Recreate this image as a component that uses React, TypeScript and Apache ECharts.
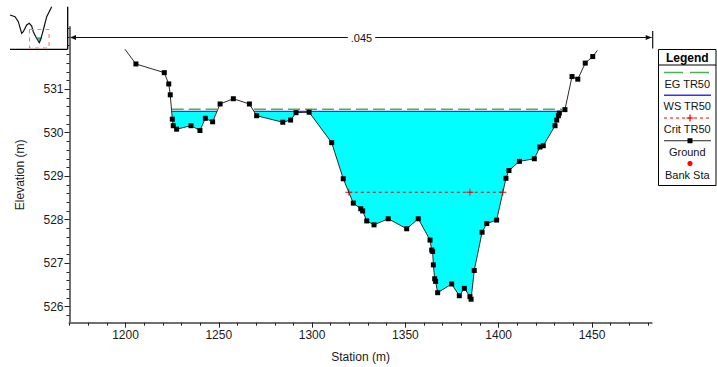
import React, { useEffect, useRef } from 'react';
import * as echarts from 'echarts';

// ---- data ----
const groundStation = [
  1199.7, 1205.6, 1220.8, 1223.2, 1224.0, 1225.1, 1225.6, 1227.4, 1235.1, 1239.9,
  1242.8, 1246.7, 1250.7, 1257.8, 1266.4, 1270.3, 1284.3, 1288.5, 1291.4, 1298.4,
  1310.5, 1316.7, 1322.1, 1326.1, 1327.1, 1329.3, 1333.2, 1340.8, 1350.7, 1356.9,
  1363.2, 1364.1, 1364.6, 1365.0, 1365.7, 1366.2, 1367.3, 1374.8, 1378.9, 1381.6,
  1384.6, 1385.2, 1386.9, 1391.1, 1393.6, 1398.9, 1403.9, 1405.5, 1411.1, 1419.1,
  1422.1, 1423.9, 1430.2, 1431.1, 1432.0, 1432.5, 1435.5, 1439.3, 1442.4, 1446.4,
  1450.4, 1452.9,
];
const groundElevation = [
  531.92, 531.58, 531.38, 531.12, 530.87, 530.31, 530.16, 530.08, 530.16, 530.05,
  530.33, 530.25, 530.66, 530.78, 530.66, 530.39, 530.24, 530.29, 530.46, 530.47,
  529.77, 528.94, 528.38, 528.25, 528.20, 527.97, 527.88, 528.02, 527.79, 528.02,
  527.53, 527.30, 527.27, 526.96, 526.64, 526.58, 526.32, 526.52, 526.25, 526.42,
  526.23, 526.17, 526.83, 527.71, 527.91, 527.99, 528.95, 529.13, 529.34, 529.40,
  529.67, 529.70, 530.16, 530.29, 530.39, 530.45, 530.53, 531.29, 531.23, 531.60,
  531.75, 531.89,
];
const wsElevation = 530.49;
const egElevation = 530.54;
const critElevation = 528.63;
const critMidStation = 1384.6;

const xRange = [1170, 1482];
const yRange = [525.63, 532.43];
const xTickLabels = [1200, 1250, 1300, 1350, 1400, 1450];
const yTickLabels = [526, 527, 528, 529, 530, 531];
const xMinorStep = 10;
const yMinorStep = 0.2;

const nValueLabel = '.045';
const legendTitle = 'Legend';
const legendLabels = ['EG TR50', 'WS TR50', 'Crit TR50', 'Ground', 'Bank Sta'];
const xName = 'Station (m)';
const yName = 'Elevation (m)';

// small overview sketch in the corner (picture-in-picture)
const thumbnailProfile = [
  [10, 15], [15, 16.7], [18.3, 21.7], [21.7, 33.3], [23.3, 31.7], [26.7, 25],
  [29.3, 23.3], [31.7, 26], [33.3, 31.7], [36, 37.3], [39.3, 42.7], [40.7, 39.3],
  [43.3, 30], [46.7, 16.7], [51.7, 6.7],
];

const FONT = '"Liberation Sans", Arial, sans-serif';

function makeRange(start: number, end: number, step: number) {
  const out: number[] = [];
  const n = Math.floor((end - start) / step + 1e-6);
  for (let i = 0; i <= n; i++) out.push(Math.round((start + i * step) * 1000) / 1000);
  return out;
}

// wetted polygons where ground is below a given level
function wetPolygons(level: number) {
  const polys: number[][][] = [];
  let cur: number[][] | null = null;
  for (let i = 0; i < groundStation.length; i++) {
    const below = groundElevation[i] < level;
    if (i > 0) {
      const prevBelow = groundElevation[i - 1] < level;
      if (below !== prevBelow) {
        const t = (level - groundElevation[i - 1]) / (groundElevation[i] - groundElevation[i - 1]);
        const xc = groundStation[i - 1] + t * (groundStation[i] - groundStation[i - 1]);
        if (below) {
          cur = [[xc, level]];
        } else if (cur) {
          cur.push([xc, level]);
          polys.push(cur);
          cur = null;
        }
      }
    }
    if (below) {
      if (!cur) cur = [];
      cur.push([groundStation[i], groundElevation[i]]);
    }
  }
  if (cur) polys.push(cur);
  return polys;
}

function critExtent(level: number) {
  let iMin = 0;
  groundElevation.forEach((e, i) => { if (e < groundElevation[iMin]) iMin = i; });
  let l = iMin;
  while (l > 0 && groundElevation[l - 1] < level) l--;
  let r = iMin;
  while (r < groundElevation.length - 1 && groundElevation[r + 1] < level) r++;
  const interp = (a: number, b: number) => {
    const t = (level - groundElevation[a]) / (groundElevation[b] - groundElevation[a]);
    return groundStation[a] + t * (groundStation[b] - groundStation[a]);
  };
  return [interp(l, l - 1), interp(r, r + 1)];
}

const CROSS = 'path://M0,4.4H10V5.6H0Z M4.4,0H5.6V10H4.4Z';

export default function App() {
  const ref = useRef<HTMLDivElement>(null);

  useEffect(() => {
    if (!ref.current) return;
    const chart = echarts.init(ref.current, null, { renderer: 'svg' });

    const polys = wetPolygons(wsElevation);
    const [critL, critR] = critExtent(critElevation);
    const n = groundStation.length;

    const gridLeft = 69.5;
    const gridRight = 65.3;
    const gridTop = 27;
    const gridBottom = 44.3;
    const plotRightPx = 717 - gridRight;

    const legendX = 658.5;
    const legendY = 49.5;
    const legendW = 57.5;
    const legendH = 136;
    const lcx = legendX + legendW / 2;
    const lineY = (i: number) => 72.5 + i * 22.75;
    const textY = (i: number) => 83.5 + i * 22.9;

    const legendGraphics: any[] = [
      { type: 'rect', shape: { x: legendX, y: legendY, width: legendW, height: legendH }, style: { fill: '#fff', stroke: '#000', lineWidth: 1 }, z: 10 },
      { type: 'line', shape: { x1: legendX, y1: 65, x2: legendX + legendW, y2: 65 }, style: { stroke: '#000', lineWidth: 1 }, z: 11 },
      { type: 'text', x: lcx, y: 57.5, style: { text: legendTitle, fontFamily: FONT, fontSize: 12, fontWeight: 'bold', fill: '#000', align: 'center', verticalAlign: 'middle' }, z: 11 },
      // EG
      { type: 'line', shape: { x1: 664, y1: lineY(0), x2: 709, y2: lineY(0) }, style: { stroke: '#4caf50', lineWidth: 1.5, lineDash: [19, 7] }, z: 11 },
      // WS
      { type: 'line', shape: { x1: 664, y1: lineY(1), x2: 711, y2: lineY(1) }, style: { stroke: '#3030ff', lineWidth: 1.3 }, z: 11 },
      // Crit
      { type: 'line', shape: { x1: 664, y1: lineY(2), x2: 711, y2: lineY(2) }, style: { stroke: '#ff0000', lineWidth: 1, lineDash: [3, 3] }, z: 11 },
      { type: 'line', shape: { x1: 686.5, y1: lineY(2), x2: 693.5, y2: lineY(2) }, style: { stroke: '#ff0000', lineWidth: 1.2 }, z: 11 },
      { type: 'line', shape: { x1: 690, y1: lineY(2) - 3.5, x2: 690, y2: lineY(2) + 3.5 }, style: { stroke: '#ff0000', lineWidth: 1.2 }, z: 11 },
      // Ground
      { type: 'line', shape: { x1: 664, y1: lineY(3), x2: 711, y2: lineY(3) }, style: { stroke: '#222', lineWidth: 1 }, z: 11 },
      { type: 'rect', shape: { x: 687.5, y: lineY(3) - 2.5, width: 5, height: 5 }, style: { fill: '#000' }, z: 11 },
      // Bank Sta
      { type: 'circle', shape: { cx: 690, cy: lineY(4), r: 2.6 }, style: { fill: '#ff0000' }, z: 11 },
    ];
    legendLabels.forEach((t, i) => {
      legendGraphics.push({ type: 'text', x: lcx, y: textY(i), style: { text: t, fontFamily: FONT, fontSize: 11, fill: '#111', align: 'center', verticalAlign: 'middle' }, z: 11 });
    });

    const thumbGraphics: any[] = [
      { type: 'rect', shape: { x: 0, y: 0, width: 67.7, height: 49.3 }, style: { fill: '#fff' }, z: 10 },
      { type: 'line', shape: { x1: 10, y1: 49.3, x2: 67.7, y2: 49.3 }, style: { stroke: '#000', lineWidth: 1.3 }, z: 11 },
      { type: 'line', shape: { x1: 67.7, y1: 6.7, x2: 67.7, y2: 49.3 }, style: { stroke: '#000', lineWidth: 1.3 }, z: 11 },
      { type: 'polygon', shape: { points: [[36.5, 37.3], [42.3, 37.3], [40, 41.5]] }, style: { fill: '#00c8a0' }, z: 11 },
      { type: 'polyline', shape: { points: thumbnailProfile }, style: { stroke: '#111', lineWidth: 1.2, fill: null }, z: 12 },
      { type: 'rect', shape: { x: 29.5, y: 29.5, width: 19.5, height: 18.5 }, style: { fill: null, stroke: '#ff7070', lineWidth: 1, lineDash: [4, 4] }, z: 12 },
    ];

    const arrowY = 37.5;
    const arrowGraphics: any[] = [
      { type: 'line', shape: { x1: 71, y1: arrowY, x2: plotRightPx, y2: arrowY }, style: { stroke: '#111', lineWidth: 1 }, z: 5 },
      { type: 'polygon', shape: { points: [[70, arrowY], [76, arrowY - 2.6], [76, arrowY + 2.6]] }, style: { fill: '#111' }, z: 5 },
      { type: 'polygon', shape: { points: [[plotRightPx, arrowY], [plotRightPx - 6, arrowY - 2.6], [plotRightPx - 6, arrowY + 2.6]] }, style: { fill: '#111' }, z: 5 },
      { type: 'line', shape: { x1: plotRightPx + 1, y1: 31, x2: plotRightPx + 1, y2: 48.5 }, style: { stroke: '#111', lineWidth: 1.2 }, z: 5 },
      { type: 'text', x: 361.5, y: arrowY + 0.5, style: { text: nValueLabel, fontFamily: FONT, fontSize: 11, fill: '#111', align: 'center', verticalAlign: 'middle', backgroundColor: '#fff', padding: [1, 3] }, z: 6 },
    ];

    const groundData = groundStation.map((s, i) => ({
      value: [s, groundElevation[i]],
      symbol: i === 0 || i === n - 1 ? 'none' : 'rect',
    }));

    const axisLabelStyle = { color: '#1a1a1a', fontSize: 12, fontFamily: FONT, formatter: (v: number) => String(v) };

    const option: any = {
      animation: false,
      backgroundColor: '#fff',
      grid: { left: gridLeft, right: gridRight, top: gridTop, bottom: gridBottom, containLabel: false, outerBoundsMode: 'none' },
      xAxis: [
        {
          type: 'value', min: xRange[0], max: xRange[1], position: 'bottom',
          name: xName, nameLocation: 'middle', nameGap: 28,
          nameTextStyle: { color: '#1a1a1a', fontSize: 12, fontFamily: FONT },
          axisLine: { show: true, onZero: false, lineStyle: { color: '#707070', width: 2 } },
          axisTick: { show: true, customValues: xTickLabels, length: 5, lineStyle: { color: '#222', width: 1 } },
          axisLabel: { customValues: xTickLabels, margin: 6, ...axisLabelStyle },
          splitLine: { show: false },
        },
        {
          type: 'value', min: xRange[0], max: xRange[1], position: 'bottom',
          axisLine: { show: false, onZero: false },
          axisTick: { show: true, customValues: makeRange(xRange[0], xRange[1], xMinorStep), length: 3, lineStyle: { color: '#222', width: 1 } },
          axisLabel: { show: false },
          splitLine: { show: false },
        },
      ],
      yAxis: [
        {
          type: 'value', min: yRange[0], max: yRange[1], position: 'left',
          name: yName, nameLocation: 'middle', nameGap: 44,
          nameTextStyle: { color: '#1a1a1a', fontSize: 12, fontFamily: FONT },
          axisLine: { show: true, onZero: false, lineStyle: { color: '#707070', width: 2 } },
          axisTick: { show: true, customValues: yTickLabels, length: 5, lineStyle: { color: '#222', width: 1 } },
          axisLabel: { customValues: yTickLabels, margin: 6, ...axisLabelStyle },
          splitLine: { show: false },
        },
        {
          type: 'value', min: yRange[0], max: yRange[1], position: 'left',
          axisLine: { show: false, onZero: false },
          axisTick: { show: true, customValues: makeRange(525.8, yRange[1], yMinorStep), length: 3, lineStyle: { color: '#222', width: 1 } },
          axisLabel: { show: false },
          splitLine: { show: false },
        },
      ],
      series: [
        {
          type: 'custom',
          coordinateSystem: 'cartesian2d',
          xAxisIndex: 0,
          yAxisIndex: 0,
          silent: true,
          z: 1,
          data: [[groundStation[0], wsElevation]],
          renderItem: (params: any, api: any) => {
            const children: any[] = [];
            polys.forEach((poly) => {
              const pts = poly.map((p) => api.coord(p));
              children.push({ type: 'polygon', shape: { points: pts }, style: { fill: '#00ffff', stroke: null } });
              const a = poly[0];
              const b = poly[poly.length - 1];
              const ea = api.coord([a[0], egElevation]);
              const eb = api.coord([b[0], egElevation]);
              children.push({ type: 'line', shape: { x1: ea[0], y1: ea[1], x2: eb[0], y2: eb[1] }, style: { stroke: '#4caf50', lineWidth: 1.5, lineDash: [12, 5] } });
              const wa = api.coord(a);
              const wb = api.coord(b);
              children.push({ type: 'line', shape: { x1: wa[0], y1: wa[1], x2: wb[0], y2: wb[1] }, style: { stroke: '#3030ff', lineWidth: 1.3 } });
            });
            return { type: 'group', children };
          },
        },
        {
          type: 'line',
          name: 'Crit TR50',
          xAxisIndex: 0,
          yAxisIndex: 0,
          z: 3,
          data: [[critL, critElevation], [critMidStation, critElevation], [critR, critElevation]],
          symbol: CROSS,
          symbolSize: 7,
          showSymbol: true,
          itemStyle: { color: '#ff0000' },
          lineStyle: { color: '#ff0000', width: 1, type: [3, 3] },
          silent: true,
        },
        {
          type: 'line',
          name: 'Ground',
          xAxisIndex: 0,
          yAxisIndex: 0,
          z: 4,
          data: groundData,
          symbolSize: 5,
          showSymbol: true,
          showAllSymbol: true,
          itemStyle: { color: '#000' },
          lineStyle: { color: '#2a2a2a', width: 1 },
          silent: true,
        },
      ],
      graphic: [...arrowGraphics, ...thumbGraphics, ...legendGraphics],
    };

    chart.setOption(option);
    return () => chart.dispose();
  }, []);

  return (
    <div
      ref={ref}
      style={{ position: 'fixed', left: 0, top: 0, width: 717, height: 367, background: '#fff' }}
    />
  );
}
